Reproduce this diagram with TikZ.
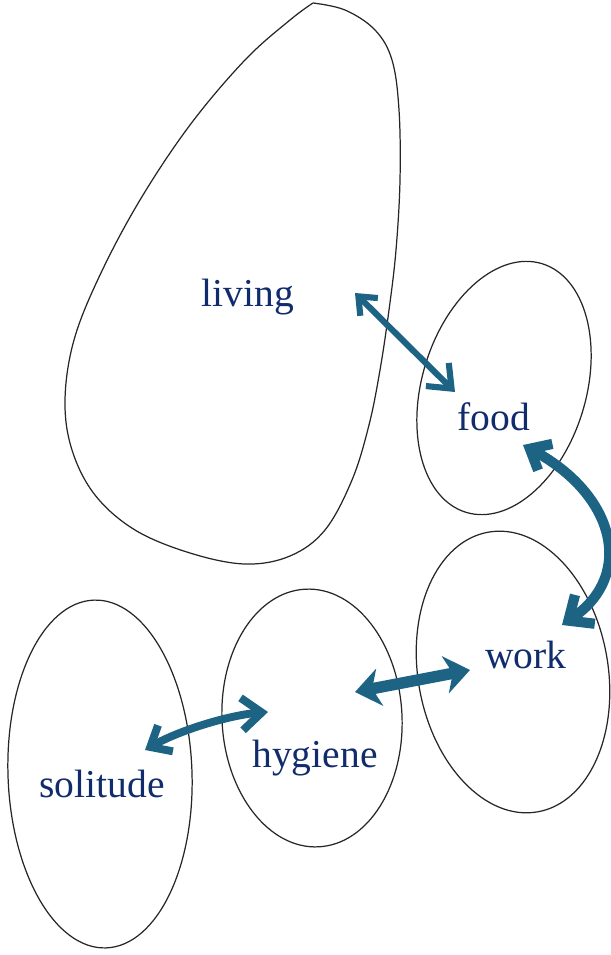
\documentclass[tikz,border=0pt]{standalone}
\usepackage{fontspec}
\setmainfont{Liberation Serif}
\usetikzlibrary{arrows.meta}
\definecolor{arrowblue}{HTML}{1D6384}
\definecolor{wordblue}{HTML}{102C6C}
\begin{document}
\begin{tikzpicture}[x=0.02cm,y=-0.02cm,
    blob/.style={draw=black!85,line width=0.7pt},
    word/.style={text=wordblue,font=\fontsize{22.5}{27}\selectfont,anchor=base,inner sep=0pt},
    link/.style={draw=arrowblue,line cap=round}]
     \useasboundingbox (0,0) rectangle (610,955);
     % outlines
     \draw [blob] plot [smooth,tension=0.6] coordinates {(313,3) (345,10) (375,30) (392,60) (399,110) (400,180) (396,250) (389,310) (380,370) (369,425) (352,480) (325,530) (290,556) (245,564) (190,553) (135,530) (95,495) (72,450) (65,400) (74,340) (100,275) (140,200) (190,125) (245,60) (290,20) (313,3)};
     \draw [blob,rotate around={-17:(504,388)}] (504,388) ellipse [x radius=82,y radius=130];
     \draw [blob,rotate around={10:(513,672)}] (513,672) ellipse [x radius=95,y radius=142];
     \draw [blob,rotate around={3:(312,718)}] (312,718) ellipse [x radius=90,y radius=129];
     \draw [blob,rotate around={2:(100,774)}] (100,774) ellipse [x radius=92,y radius=174];
     % words
     \node [word] (living) at (248,307) {living};
     \node [word] (food) at (494,430) {food};
     \node [word] (work) at (526,668) {work};
     \node [word] (hygiene) at (315,767) {hygiene};
     \node [word] (solitude) at (102,797) {solitude};
     % arrows
     \coordinate (lf1) at (355,293);
     \coordinate (lf2) at (455,392);
     \coordinate (fw1) at (523,445);
     \coordinate (fw2) at (562,625);
     \coordinate (hw1) at (355,692);
     \coordinate (hw2) at (470,670);
     \coordinate (sh1) at (145,750);
     \coordinate (sh2) at (268,712);
     \draw [link,line width=3.5pt,{Straight Barb[length=3mm,width=5mm]}-{Straight Barb[length=4mm,width=6.5mm]}] (lf1) -- (lf2);
     \draw [link,line width=5.8pt,{Straight Barb[length=3.5mm,width=6mm]}-{Straight Barb[length=4mm,width=7mm]}] (fw1) .. controls (615,495) and (635,575) .. (fw2);
     \draw [link,line width=6.5pt,{Stealth[length=5mm,width=7.5mm,inset=1.5mm]}-{Stealth[length=5mm,width=7.5mm,inset=1.5mm]}] (hw1) -- (hw2);
     \draw [link,line width=4.5pt,{Straight Barb[length=3.5mm,width=6mm]}-{Straight Barb[length=4mm,width=6.5mm]}] (sh1) .. controls (180,730) and (230,715) .. (sh2);
\end{tikzpicture}
\end{document}
